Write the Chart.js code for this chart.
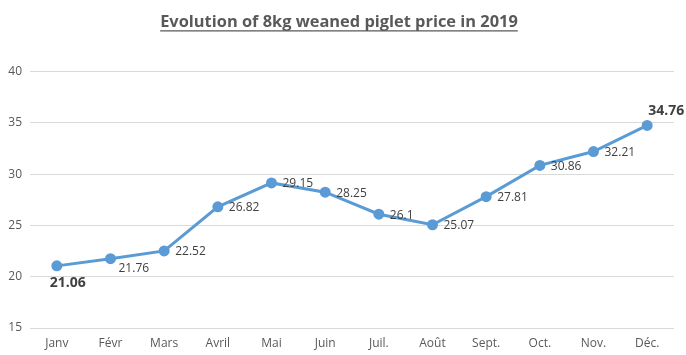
<!DOCTYPE html>
<html>
<head>
<meta charset="utf-8">
<script src="https://cdn.jsdelivr.net/npm/chart.js@4/dist/chart.umd.min.js"></script>
<style>
html,body{margin:0;padding:0;background:#fff;}
#wrap{width:686px;height:355px;position:relative;}
</style>
</head>
<body>
<div id="wrap"><canvas id="c" width="686" height="355"></canvas></div>
<script>
const categories = ["Janv","Févr","Mars","Avril","Mai","Juin","Juil.","Août","Sept.","Oct.","Nov.","Déc."];
const prices = [21.06,21.76,22.52,26.82,29.15,28.25,26.1,25.07,27.81,30.86,32.21,34.76];
const priceLabels = ["21.06","21.76","22.52","26.82","29.15","28.25","26.1","25.07","27.81","30.86","32.21","34.76"];
const yTicks = [15,20,25,30,35,40];
const titleText = "Evolution of 8kg weaned piglet price in 2019";

const FONT = "'Open Sans', 'Liberation Sans', sans-serif";

const labelPlugin = {
  id: 'valueLabels',
  afterDatasetsDraw(chart) {
    const ctx = chart.ctx;
    const meta = chart.getDatasetMeta(0);
    ctx.save();
    ctx.fillStyle = "#404040";
    ctx.textBaseline = "middle";
    meta.data.forEach((pt, i) => {
      const txt = priceLabels[i];
      const last = i === meta.data.length - 1;
      if (i === 0) {
        ctx.font = "bold 14px " + FONT;
        ctx.textAlign = "center";
        ctx.fillText(txt, pt.x + 11, pt.y + 17);
      } else if (last) {
        ctx.font = "bold 14px " + FONT;
        ctx.textAlign = "center";
        ctx.fillText(txt, pt.x + 19, pt.y - 14);
      } else if (i === 1) {
        ctx.font = "12px " + FONT;
        ctx.textAlign = "left";
        ctx.fillText(txt, pt.x + 8, pt.y + 10);
      } else {
        ctx.font = "12px " + FONT;
        ctx.textAlign = "left";
        ctx.fillText(txt, pt.x + 11, pt.y + 1);
      }
    });
    ctx.restore();
  }
};

const underlinePlugin = {
  id: 'titleUnderline',
  afterDraw(chart) {
    const t = chart.titleBlock;
    if (!t) return;
    const ctx = chart.ctx;
    ctx.save();
    ctx.font = "bold 16.4px " + FONT;
    const w = ctx.measureText(titleText).width;
    const cx = (t.left + t.right) / 2;
    const y = t.top + 4 + 9.8 + 9;
    ctx.strokeStyle = "#595959";
    ctx.lineWidth = 1.2;
    ctx.beginPath();
    ctx.moveTo(cx - w / 2, y);
    ctx.lineTo(cx + w / 2, y);
    ctx.stroke();
    ctx.restore();
  }
};

new Chart(document.getElementById('c'), {
  type: 'line',
  data: {
    labels: categories,
    datasets: [{
      data: prices,
      borderColor: '#5B9BD5',
      backgroundColor: '#5B9BD5',
      borderWidth: 3,
      pointRadius: 4,
      pointBackgroundColor: '#5B9BD5',
      pointBorderColor: '#5B9BD5',
      tension: 0
    }]
  },
  options: {
    responsive: false,
    animation: false,
    layout: { padding: { left: 4, right: 12, top: 8, bottom: 0 } },
    plugins: {
      legend: { display: false },
      tooltip: { enabled: false },
      title: {
        display: true,
        text: titleText,
        color: '#595959',
        font: { family: FONT, size: 16.4, weight: 'bold' },
        padding: { top: 4, bottom: 40 }
      }
    },
    scales: {
      x: {
        offset: true,
        grid: { display: false },
        border: { display: false },
        afterFit(scale) { scale.height = 27; },
        ticks: { color: '#595959', font: { family: FONT, size: 12 }, padding: 0, maxRotation: 0 }
      },
      y: {
        min: 15, max: 40,
        afterBuildTicks(scale) { scale.ticks = yTicks.map(v => ({ value: v })); },
        afterFit(scale) { scale.width = 26; },
        grid: { color: '#d9d9d9', drawTicks: false },
        border: { display: false },
        ticks: { color: '#595959', font: { family: FONT, size: 12 }, padding: 8 }
      }
    }
  },
  plugins: [labelPlugin, underlinePlugin]
});
</script>
</body>
</html>
